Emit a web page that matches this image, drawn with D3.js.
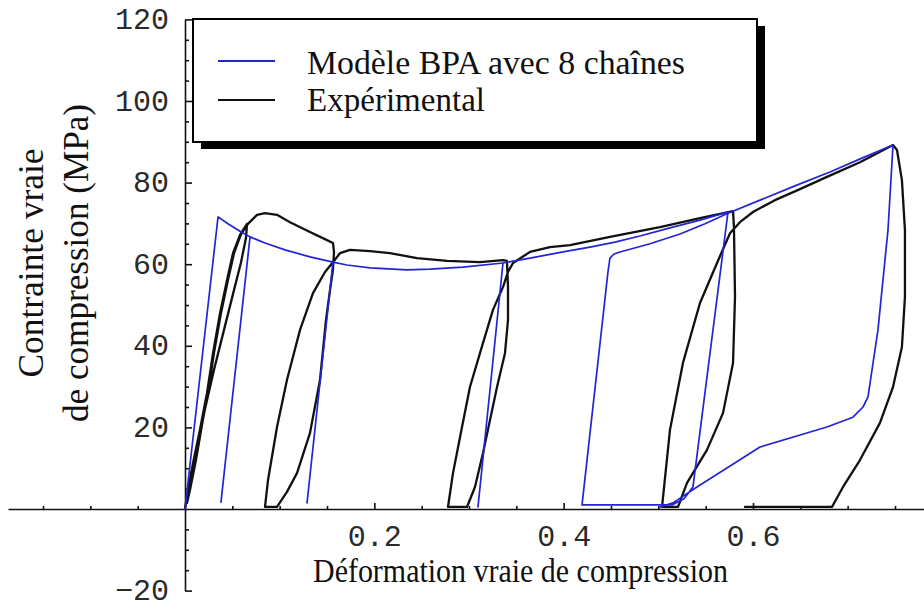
<!DOCTYPE html>
<html>
<head>
<meta charset="utf-8">
<script src="https://cdn.jsdelivr.net/npm/d3@7"></script>
<style>
  html, body { margin: 0; padding: 0; background: #fff; }
  svg { display: block; }
</style>
</head>
<body>
<svg id="chart" width="924" height="608"></svg>
<script>
// Compression cycles of BPA polycarbonate: true strain vs true stress (MPa)

// Model (BPA model, 8-chain network) - one continuous load/unload path
const modelStrain = [0, 0.0349, 0.0454, 0.0581, 0.0687, 0.0380, 0.0687, 0.0845, 0.1056, 0.1320,
  0.1563, 0.1289, 0.1563, 0.1711, 0.1954, 0.2345, 0.2588, 0.2937, 0.3359, 0.3095,
  0.3359, 0.3644, 0.3993, 0.4278, 0.4542, 0.4806, 0.5123, 0.5440, 0.5736, 0.5366,
  0.5271, 0.5144, 0.4194, 0.4468, 0.4489, 0.4532, 0.4595, 0.4912, 0.5229, 0.5493,
  0.5736, 0.6074, 0.6443, 0.6813, 0.7151, 0.7479, 0.7426, 0.7320, 0.7215, 0.7162,
  0.7056, 0.6781, 0.6074, 0.5408, 0.5155, 0.5017];
const modelStress = [0, 71.6, 69.9, 68.1, 66.7, 1.7, 66.7, 65.2, 63.5, 61.8,
  60.5, 1.5, 60.5, 59.8, 59.1, 58.6, 58.8, 59.3, 60.3, 0.5,
  60.3, 61.5, 63.0, 64.2, 65.4, 66.9, 68.9, 70.8, 72.8, 5.4,
  2.5, 1.0, 1.0, 58.1, 61.5, 62.5, 63.0, 65.0, 67.4, 69.9,
  72.5, 75.7, 79.2, 82.6, 86.0, 89.2, 68.4, 43.9, 27.5, 25.0,
  22.5, 20.1, 15.2, 5.4, 1.5, 0.5];

// Experimental measurements - one continuous load/unload/recovery path
const expStrain = [0, 0.0032, 0.0085, 0.0158, 0.0232, 0.0296, 0.0370, 0.0444, 0.0507, 0.0581, 0.0655,
  0.0644, 0.0592, 0.0518, 0.0412, 0.0306, 0.0201, 0.0116, 0.0053, 0.0021,
  0.0042, 0.0095, 0.0169, 0.0243, 0.0306, 0.0380, 0.0454, 0.0518, 0.0592, 0.0665,
  0.0761, 0.0845, 0.0972, 0.1109, 0.1320, 0.1500, 0.1563,
  0.1574, 0.1563, 0.1532, 0.1489, 0.1426, 0.1320, 0.1183, 0.1077, 0.0972,
  0.0845,
  0.0877, 0.0972, 0.1077, 0.1215, 0.1352, 0.1479, 0.1563, 0.1637, 0.1743, 0.1954,
  0.2165, 0.2451, 0.2768, 0.3116, 0.3359, 0.3401,
  0.3412, 0.3412, 0.3380, 0.3296, 0.3222, 0.3148, 0.3063, 0.2979,
  0.2778,
  0.2831, 0.2905, 0.3010, 0.3116, 0.3253, 0.3359, 0.3412, 0.3465, 0.3644, 0.3855,
  0.4067, 0.4489, 0.5017, 0.5440, 0.5789,
  0.5799, 0.5810, 0.5789, 0.5683, 0.5514, 0.5303, 0.5208,
  0.5039,
  0.5123, 0.5260, 0.5440, 0.5620, 0.5757, 0.5862, 0.6000, 0.6232, 0.6496, 0.6781,
  0.7130, 0.7479,
  0.7521, 0.7573, 0.7605, 0.7605, 0.7573, 0.7479, 0.7341, 0.7130, 0.6951, 0.6834,
  0.5915];
const expStress = [0, 4.7, 11.3, 19.4, 28.4, 38.2, 48.0, 56.1, 62.7, 67.2, 69.9,
  66.4, 60.5, 53.7, 43.9, 34.1, 23.5, 12.0, 4.7, 1.5,
  4.7, 11.3, 19.4, 28.4, 38.2, 48.0, 56.1, 62.7, 67.4, 69.9,
  72.1, 72.5, 72.1, 70.3, 67.9, 65.9, 65.2,
  63.0, 58.6, 53.7, 46.3, 31.6, 18.6, 8.8, 4.2, 0.5,
  0.5,
  7.1, 20.1, 31.6, 43.9, 52.9, 58.1, 60.5, 62.7, 63.5, 63.2,
  62.7, 61.5, 60.8, 60.5, 61.0, 60.8,
  54.4, 46.3, 38.2, 29.9, 21.8, 13.7, 5.4, 0.5,
  0.5,
  8.8, 17.6, 29.9, 38.2, 48.8, 54.4, 58.1, 60.3, 63.0, 64.2,
  64.7, 66.7, 69.1, 71.3, 73.0,
  69.1, 52.0, 35.8, 23.5, 14.5, 6.4, 0.5,
  0.5,
  19.4, 35.8, 50.5, 60.3, 67.6, 70.3, 72.8, 75.7, 78.4, 81.4,
  85.0, 89.2,
  88.0, 80.6, 68.4, 52.0, 39.7, 29.9, 21.1, 12.0, 5.4, 0.5,
  0.5];

// Axis ticks
const xTickLabels = [0.2, 0.4, 0.6];
const yTickLabels = [-20, 20, 40, 60, 80, 100, 120];

// Legend entries
const seriesNames = ["Modèle BPA avec 8 chaînes", "Expérimental"];
const seriesColors = ["#2424d6", "#111111"];

const svg = d3.select("#chart");
const serif = "'Liberation Serif', 'Times New Roman', serif";
const mono = "'Liberation Mono', 'Courier New', monospace";

const x = d3.scaleLinear().domain([0, 0.6]).range([185, 753]);
const y = d3.scaleLinear().domain([0, 100]).range([509, 101]);

// Horizontal axis spans the whole width; vertical axis from -20 to 120
const xAxisScale = d3.scaleLinear().domain([x.invert(8), x.invert(924)]).range([8, 924]);
const yAxisScale = y.copy().domain([-20, 120]).range([y(-20), y(120)]);

const minorX = d3.range(-3, 16).map(i => +(i * 0.05).toFixed(2))
  .filter(v => v !== 0 && !xTickLabels.includes(v));
const minorY = d3.range(-4, 25).map(i => i * 5)
  .filter(v => v !== 0 && v % 20 !== 0);

// x axis: minor ticks
svg.append("g")
  .attr("transform", `translate(0,${y(0)})`)
  .call(d3.axisBottom(xAxisScale).tickValues(minorX).tickSizeInner(-3).tickSizeOuter(0).tickFormat(""))
  .call(g => g.select(".domain").attr("stroke", "#111").attr("stroke-width", 1.6))
  .call(g => g.selectAll(".tick line").attr("stroke", "#111").attr("stroke-width", 1.6));

// x axis: major ticks and labels
svg.append("g")
  .attr("transform", `translate(0,${y(0)})`)
  .call(d3.axisBottom(xAxisScale).tickValues(xTickLabels).tickSizeInner(-6).tickSizeOuter(0)
    .tickPadding(16).tickFormat(d3.format(".1f")))
  .call(g => g.select(".domain").remove())
  .call(g => g.selectAll(".tick line").attr("stroke", "#111").attr("stroke-width", 1.6))
  .call(g => g.selectAll(".tick text")
    .attr("font-family", mono).attr("font-size", 30).attr("fill", "#2a2a2a")
    .attr("dy", "0.71em"));

// y axis: minor ticks
svg.append("g")
  .attr("transform", `translate(${x(0)},0)`)
  .call(d3.axisLeft(yAxisScale).tickValues(minorY).tickSizeInner(-4).tickSizeOuter(0).tickFormat(""))
  .call(g => g.select(".domain").attr("stroke", "#111").attr("stroke-width", 1.6))
  .call(g => g.selectAll(".tick line").attr("stroke", "#111").attr("stroke-width", 1.6));

// y axis: major ticks and labels
svg.append("g")
  .attr("transform", `translate(${x(0)},0)`)
  .call(d3.axisLeft(yAxisScale).tickValues(yTickLabels).tickSizeInner(-7).tickSizeOuter(0)
    .tickPadding(16).tickFormat(d3.format("d")))
  .call(g => g.select(".domain").remove())
  .call(g => g.selectAll(".tick line").attr("stroke", "#111").attr("stroke-width", 1.6))
  .call(g => g.selectAll(".tick text")
    .attr("font-family", mono).attr("font-size", 30).attr("fill", "#2a2a2a")
    .attr("dy", "0.3em"));

// curves
const line = d3.line().x(d => x(d[0])).y(d => y(d[1])).curve(d3.curveLinear);

svg.append("path")
  .datum(d3.zip(expStrain, expStress))
  .attr("d", line)
  .attr("fill", "none")
  .attr("stroke", seriesColors[1])
  .attr("stroke-width", 2.3)
  .attr("stroke-linejoin", "round")
  .attr("stroke-linecap", "round");

svg.append("path")
  .datum(d3.zip(modelStrain, modelStress))
  .attr("d", line)
  .attr("fill", "none")
  .attr("stroke", seriesColors[0])
  .attr("stroke-width", 1.7)
  .attr("stroke-linejoin", "round")
  .attr("stroke-linecap", "round");

// axis titles
svg.append("text")
  .attr("x", 313).attr("y", 582)
  .attr("font-family", serif).attr("font-size", 34).attr("fill", "#111")
  .attr("textLength", 415).attr("lengthAdjust", "spacingAndGlyphs")
  .text("Déformation vraie de compression");

const yTitle = svg.append("g").attr("font-family", serif).attr("font-size", 35).attr("fill", "#111");
yTitle.append("text")
  .attr("transform", "translate(43,263) rotate(-90)")
  .attr("text-anchor", "middle")
  .attr("textLength", 229).attr("lengthAdjust", "spacingAndGlyphs")
  .text("Contrainte vraie");
yTitle.append("text")
  .attr("transform", "translate(88,263) rotate(-90)")
  .attr("text-anchor", "middle")
  .attr("textLength", 318).attr("lengthAdjust", "spacingAndGlyphs")
  .text("de compression (MPa)");

// legend with drop shadow
const legend = svg.append("g");
legend.append("rect")
  .attr("x", 201).attr("y", 26).attr("width", 564).attr("height", 123)
  .attr("fill", "#000");
legend.append("rect")
  .attr("x", 193).attr("y", 19).attr("width", 564).attr("height", 123)
  .attr("fill", "#fff").attr("stroke", "#000").attr("stroke-width", 2);

const legendRows = [
  { lineY: 61, textY: 74, width: 378 },
  { lineY: 100, textY: 111, width: 178 }
];
seriesNames.forEach((name, i) => {
  const r = legendRows[i];
  legend.append("line")
    .attr("x1", 218).attr("x2", 275).attr("y1", r.lineY).attr("y2", r.lineY)
    .attr("stroke", seriesColors[i]).attr("stroke-width", 2);
  legend.append("text")
    .attr("x", 307).attr("y", r.textY)
    .attr("font-family", serif).attr("font-size", 33).attr("fill", "#111")
    .attr("textLength", r.width).attr("lengthAdjust", "spacingAndGlyphs")
    .text(name);
});
</script>
</body>
</html>
